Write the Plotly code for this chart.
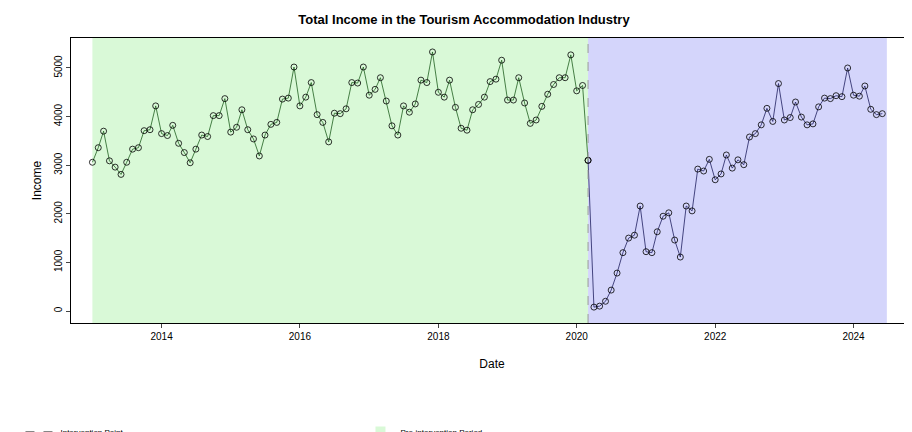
import pandas as pd
import plotly.graph_objects as go

dates = pd.date_range("2013-01-01", "2024-06-01", freq="MS")
income = [
    3060, 3360, 3700, 3090, 2960, 2810, 3060, 3330, 3360, 3710, 3730, 4220,
    3650, 3610, 3820, 3450, 3260, 3050, 3330, 3620, 3590, 4020, 4020, 4370,
    3680, 3780, 4140, 3730, 3540, 3190, 3620, 3840, 3880, 4360, 4380, 5020,
    4220, 4400, 4700, 4040, 3880, 3480, 4070, 4060, 4160, 4700, 4690, 5020,
    4440, 4560, 4800, 4320, 3810, 3620, 4220, 4090, 4260, 4750, 4700, 5330,
    4500, 4400, 4750, 4190, 3760, 3720, 4140, 4250, 4400, 4720, 4770, 5160,
    4340, 4340, 4800, 4280, 3860, 3930, 4210, 4460, 4660, 4800, 4800, 5270,
    4530, 4640, 3100, 80, 100, 200, 430, 780, 1200, 1500, 1560, 2160,
    1220, 1200, 1630, 1950, 2020, 1460, 1110, 2160, 2060, 2920, 2880, 3120,
    2700, 2820, 3210, 2940, 3110, 3010, 3580, 3650, 3830, 4170, 3900, 4680,
    3930, 3980, 4300, 3990, 3830, 3850, 4200, 4380, 4370, 4430, 4410, 5000,
    4440, 4420, 4630, 4150, 4040, 4060,
]
df = pd.DataFrame({"date": dates, "income": income})
intervention = pd.Timestamp("2020-03-01")
pre_start, post_end = pd.Timestamp("2013-01-01"), pd.Timestamp("2024-06-25")

pre = df[df.date <= intervention]
post = df[df.date >= intervention]

fig = go.Figure()
fig.add_vrect(x0=pre_start, x1=intervention, fillcolor="#d9f9d7", line_width=0, layer="below")
fig.add_vrect(x0=intervention, x1=post_end, fillcolor="#d4d5fb", line_width=0, layer="below")
fig.add_vline(x=intervention, line=dict(color="#999999", dash="dash", width=1))

mk = dict(symbol="circle-open", size=6, color="black", line=dict(width=0.8))
fig.add_trace(go.Scatter(x=pre.date, y=pre.income, mode="lines+markers",
                         line=dict(color="#1f5f1f", width=0.8), marker=mk, showlegend=False))
fig.add_trace(go.Scatter(x=post.date, y=post.income, mode="lines+markers",
                         line=dict(color="#1f1f5f", width=0.8), marker=mk, showlegend=False))

# legend-only entries
fig.add_trace(go.Scatter(x=[None], y=[None], mode="lines", name="Intervention Point",
                         line=dict(color="gray", dash="dash", width=1)))
fig.add_trace(go.Scatter(x=[None], y=[None], mode="markers", name="Pre-intervention Period",
                         marker=dict(symbol="square", size=10, color="#d9f9d7")))
fig.add_trace(go.Scatter(x=[None], y=[None], mode="markers", name="Post-intervention Period",
                         marker=dict(symbol="square", size=10, color="#d4d5fb")))

fig.update_layout(
    width=912, height=432,
    margin=dict(l=63, r=7, t=30, b=117, autoexpand=False),
    plot_bgcolor="white", paper_bgcolor="white",
    font=dict(family="Liberation Sans, Arial", size=10, color="black"),
    title=dict(text="<b>Total Income in the Tourism Accommodation Industry</b>",
               x=0.5, y=0.985, yanchor="top", font=dict(size=13), automargin=False),
    xaxis=dict(title=dict(text="Date", standoff=18), range=["2012-09-10", "2024-11-10"],
               tickvals=pd.to_datetime(["2014-01-01", "2016-01-01", "2018-01-01", "2020-01-01",
                                        "2022-01-01", "2024-01-01"]),
               tickformat="%Y", showgrid=False, zeroline=False, showline=True, mirror=True,
               linecolor="black", ticks="outside", ticklen=4, automargin=False),
    yaxis=dict(title=dict(text="Income", standoff=8), range=[-247, 5617],
               tickvals=[0, 1000, 2000, 3000, 4000, 5000], tickangle=-90,
               showgrid=False, zeroline=False, showline=True, mirror=True,
               linecolor="black", ticks="outside", ticklen=4, automargin=False),
    legend=dict(orientation="h", x=-0.06, xanchor="left", y=-0.33, yanchor="top",
                entrywidth=295, font=dict(size=8)),
)

fig.write_html("out.html")
